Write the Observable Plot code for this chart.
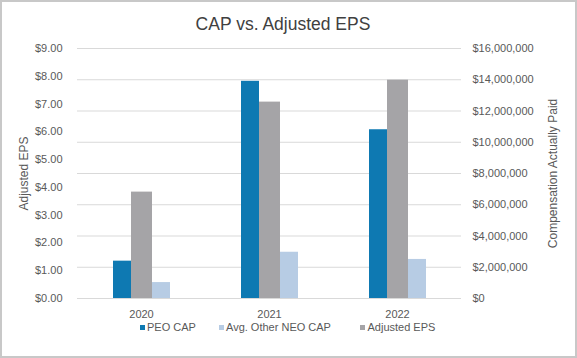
<!DOCTYPE html>
<html>
<head>
<meta charset="utf-8">
<script src="https://cdn.jsdelivr.net/npm/d3@7"></script>
<script src="https://cdn.jsdelivr.net/npm/@observablehq/plot@0.6"></script>
<style>
  html, body { margin: 0; padding: 0; background: #fff; }
  #wrap { position: relative; width: 577px; height: 358px; overflow: hidden; font-family: "Liberation Sans", Arial, sans-serif; }
  #wrap svg { position: absolute; left: 0; top: 0; }
  #title { position: absolute; left: 0; top: 14px; width: 566px; text-align: center; font-size: 17.5px; line-height: 20px; color: #404040; }
  .leg { position: absolute; top: 321px; font-size: 11px; line-height: 12px; color: #595959; white-space: nowrap; }
  .leg span.sw { display: inline-block; width: 5px; height: 5px; margin-right: 2.5px; vertical-align: 1px; }
  #frame { position: absolute; left: 0; top: 0; width: 577px; height: 358px; box-sizing: border-box; border: 2px solid #c8c8c8; pointer-events: none; }
</style>
</head>
<body>
<div id="wrap">
  <div id="title"></div>
  <div id="frame"></div>
</div>
<script>
const titleText = "CAP vs. Adjusted EPS";
const years = ["2020", "2021", "2022"];
const peoCap = [2390000, 13900000, 10800000];
const neoCap = [1020000, 2960000, 2500000];
const adjEps = [3.83, 7.07, 7.86];
const capTicks = [0, 2000000, 4000000, 6000000, 8000000, 10000000, 12000000, 14000000, 16000000];
const epsTicks = [0, 1, 2, 3, 4, 5, 6, 7, 8, 9];
const seriesNames = ["PEO CAP", "Avg. Other NEO CAP", "Adjusted EPS"];
const seriesColors = ["#0E79B2", "#B7CCE4", "#A5A4A7"];
const barOrder = ["PEO CAP", "Adjusted EPS", "Avg. Other NEO CAP"];
const leftLabel = "Adjusted EPS";
const rightLabel = "Compensation Actually Paid";

const capMax = 16000000, epsMax = 9;
const k = capMax / epsMax;

const rows = [];
years.forEach((y, i) => {
  rows.push({year: y, series: seriesNames[0], value: peoCap[i]});
  rows.push({year: y, series: seriesNames[1], value: neoCap[i]});
  rows.push({year: y, series: seriesNames[2], value: adjEps[i] * k});
});

const bySeries = s => rows.filter(r => r.series === s);

const chart = Plot.plot({
  width: 577,
  height: 358,
  marginTop: 48,
  marginBottom: 60,
  marginLeft: 76,
  marginRight: 115,
  style: {fontFamily: "Liberation Sans, Arial, sans-serif", fontSize: "11px", color: "#595959", background: "transparent"},
  fx: {domain: years, paddingInner: 0, paddingOuter: 0, label: null},
  x: {domain: barOrder, paddingInner: 0, paddingOuter: 1.81, axis: null},
  y: {domain: [0, capMax]},
  color: {domain: seriesNames, range: seriesColors},
  marks: [
    Plot.gridY(capTicks, {stroke: "#d9d9d9", strokeOpacity: 1, strokeWidth: 1}),
    Plot.barY(bySeries(seriesNames[0]), {fx: "year", x: "series", y: "value", fill: "series", insetRight: 1, insetLeft: 0}),
    Plot.barY(bySeries(seriesNames[1]), {fx: "year", x: "series", y: "value", fill: "series", insetLeft: 1, insetRight: 0}),
    Plot.barY(bySeries(seriesNames[2]), {fx: "year", x: "series", y: "value", fill: "series", insetLeft: -1, insetRight: -1}),
    Plot.axisY(epsTicks.map(v => v * k), {
      anchor: "left", tickSize: 0, tickPadding: 15,
      tickFormat: d => d3.format("$.2f")(d / k),
      label: leftLabel, labelAnchor: "center", labelOffset: 58, labelArrow: "none"
    }),
    Plot.axisY(capTicks, {
      anchor: "right", tickSize: 0, tickPadding: 11,
      tickFormat: d3.format("$,"),
      label: rightLabel, labelAnchor: "center", labelOffset: 95, labelArrow: "none"
    }),
    Plot.axisFx({anchor: "bottom", tickSize: 0, tickPadding: 12, label: null})
  ]
});

chart.querySelectorAll('g[aria-label="y-axis label"]').forEach(g => {
  g.setAttribute("font-size", "12");
  g.querySelectorAll("text").forEach(t => t.setAttribute("font-size", "12"));
});

const wrap = document.getElementById("wrap");
wrap.insertBefore(chart, wrap.firstChild);
document.getElementById("title").textContent = titleText;

const legLefts = [139.5, 218.5, 360];
seriesNames.forEach((s, i) => {
  const d = document.createElement("div");
  d.className = "leg";
  d.style.left = legLefts[i] + "px";
  const sw = document.createElement("span");
  sw.className = "sw";
  sw.style.background = seriesColors[i];
  d.appendChild(sw);
  d.appendChild(document.createTextNode(s));
  wrap.appendChild(d);
});
</script>
</body>
</html>
